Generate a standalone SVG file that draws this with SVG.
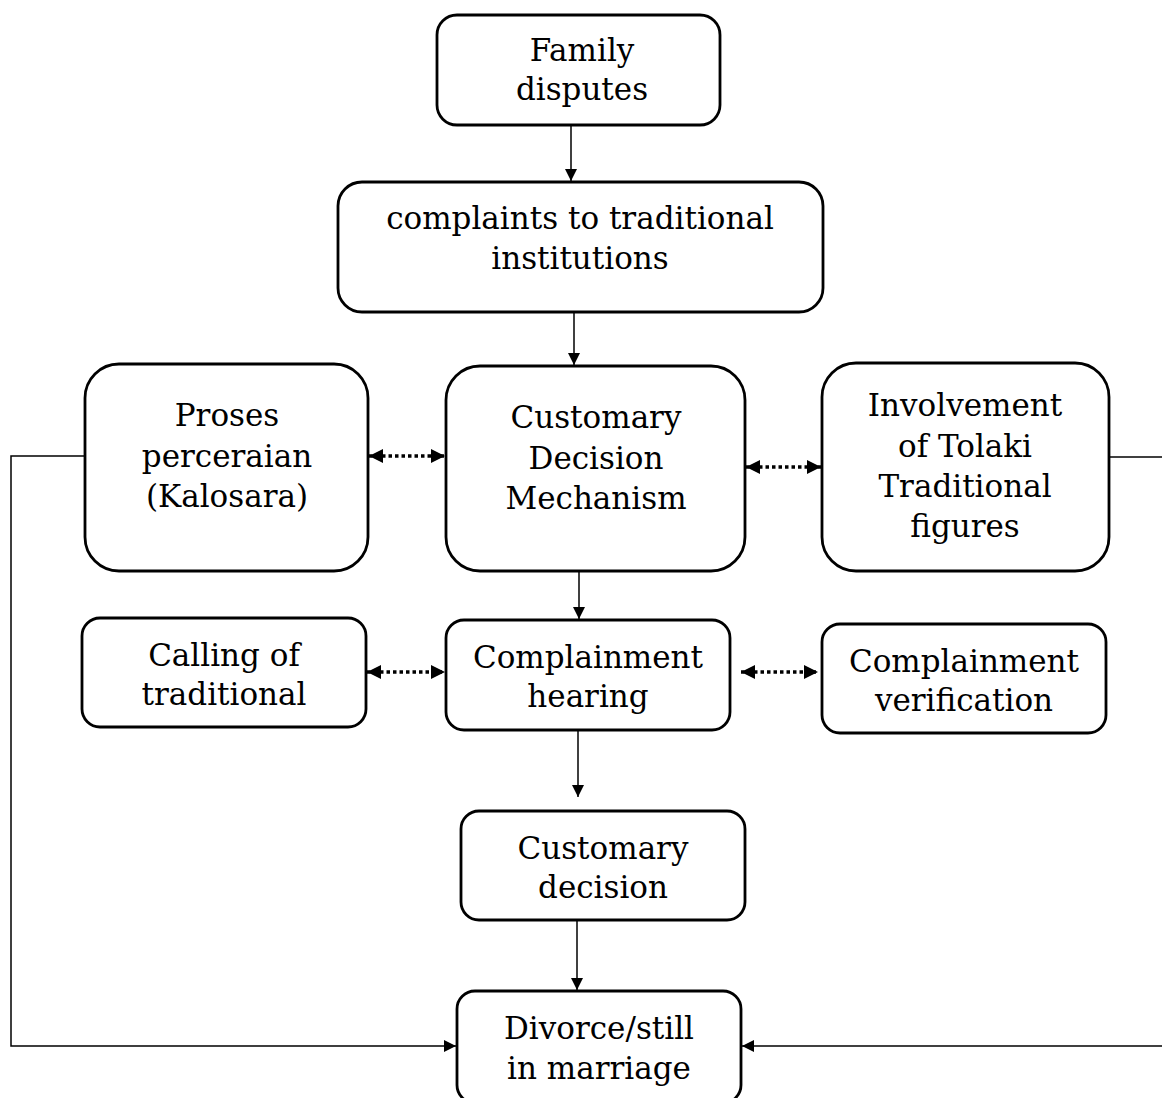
<svg xmlns="http://www.w3.org/2000/svg" width="1162" height="1098" viewBox="0 0 1162 1098">
<defs>
<marker id="ah" markerWidth="12" markerHeight="14" refX="14" refY="7" orient="auto" markerUnits="userSpaceOnUse" viewBox="0 0 14 14"><path d="M0,0 L14,7 L0,14 Z" fill="#000"/></marker>
<marker id="dh" markerWidth="14" markerHeight="14" refX="14" refY="7" orient="auto-start-reverse" markerUnits="userSpaceOnUse" viewBox="0 0 14 14"><path d="M0,0 L14,7 L0,14 Z" fill="#000"/></marker>
</defs>
<style>
.box{fill:#fff;stroke:#000;stroke-width:2.8}
.t{font-family:"DejaVu Serif","Liberation Serif",serif;font-size:31px;text-anchor:middle;fill:#000}
.c{fill:none;stroke:#000;stroke-width:1.5}
.d{fill:none;stroke:#000;stroke-width:3.5;stroke-dasharray:3.5,3}
</style>
<rect width="1162" height="1098" fill="#fff"/>
<g id="connectors">
<line class="c" x1="571" y1="125" x2="571" y2="181" marker-end="url(#ah)"/>
<line class="c" x1="574" y1="312" x2="574" y2="365" marker-end="url(#ah)"/>
<line class="c" x1="579" y1="571" x2="579" y2="619" marker-end="url(#ah)"/>
<line class="c" x1="578" y1="730" x2="578" y2="797" marker-end="url(#ah)"/>
<line class="c" x1="577" y1="920" x2="577" y2="990" marker-end="url(#ah)"/>
<line class="d" x1="369" y1="456" x2="445" y2="456" marker-start="url(#dh)" marker-end="url(#dh)"/>
<line class="d" x1="746" y1="467" x2="821" y2="467" marker-start="url(#dh)" marker-end="url(#dh)"/>
<line class="d" x1="367" y1="672" x2="445" y2="672" marker-start="url(#dh)" marker-end="url(#dh)"/>
<line class="d" x1="741" y1="672" x2="818" y2="672" marker-start="url(#dh)" marker-end="url(#dh)"/>
<polyline class="c" points="85,456 11,456 11,1046 456,1046" marker-end="url(#ah)"/>
<line class="c" x1="1109" y1="457" x2="1162" y2="457"/>
<line class="c" x1="1162" y1="1046" x2="742" y2="1046" marker-end="url(#ah)"/>
</g>
<g id="family">
<rect class="box" x="437" y="15" width="283" height="110" rx="20"/>
<text class="t" x="582" y="61">Family</text>
<text class="t" x="582" y="100">disputes</text>
</g>
<g id="complaints">
<rect class="box" x="338" y="182" width="485" height="130" rx="24"/>
<text class="t" x="580" y="229">complaints to traditional</text>
<text class="t" x="580" y="269">institutions</text>
</g>
<g id="proses">
<rect class="box" x="85" y="364" width="283" height="207" rx="34"/>
<text class="t" x="227" y="426">Proses</text>
<text class="t" x="227" y="467">perceraian</text>
<text class="t" x="227" y="507">(Kalosara)</text>
</g>
<g id="mechanism">
<rect class="box" x="446" y="366" width="299" height="205" rx="34"/>
<text class="t" x="596" y="428">Customary</text>
<text class="t" x="596" y="469">Decision</text>
<text class="t" x="596" y="509">Mechanism</text>
</g>
<g id="involvement">
<rect class="box" x="822" y="363" width="287" height="208" rx="34"/>
<text class="t" x="965" y="416">Involvement</text>
<text class="t" x="965" y="457">of Tolaki</text>
<text class="t" x="965" y="497">Traditional</text>
<text class="t" x="965" y="537">figures</text>
</g>
<g id="calling">
<rect class="box" x="82" y="618" width="284" height="109" rx="18"/>
<text class="t" x="224" y="666">Calling of</text>
<text class="t" x="224" y="705">traditional</text>
</g>
<g id="hearing">
<rect class="box" x="446" y="620" width="284" height="110" rx="18"/>
<text class="t" x="588" y="668">Complainment</text>
<text class="t" x="588" y="707">hearing</text>
</g>
<g id="verification">
<rect class="box" x="822" y="624" width="284" height="109" rx="18"/>
<text class="t" x="964" y="672">Complainment</text>
<text class="t" x="964" y="711">verification</text>
</g>
<g id="decision">
<rect class="box" x="461" y="811" width="284" height="109" rx="18"/>
<text class="t" x="603" y="859">Customary</text>
<text class="t" x="603" y="898">decision</text>
</g>
<g id="divorce">
<rect class="box" x="457" y="991" width="284" height="112" rx="18"/>
<text class="t" x="599" y="1039">Divorce/still</text>
<text class="t" x="599" y="1079">in marriage</text>
</g>
</svg>
